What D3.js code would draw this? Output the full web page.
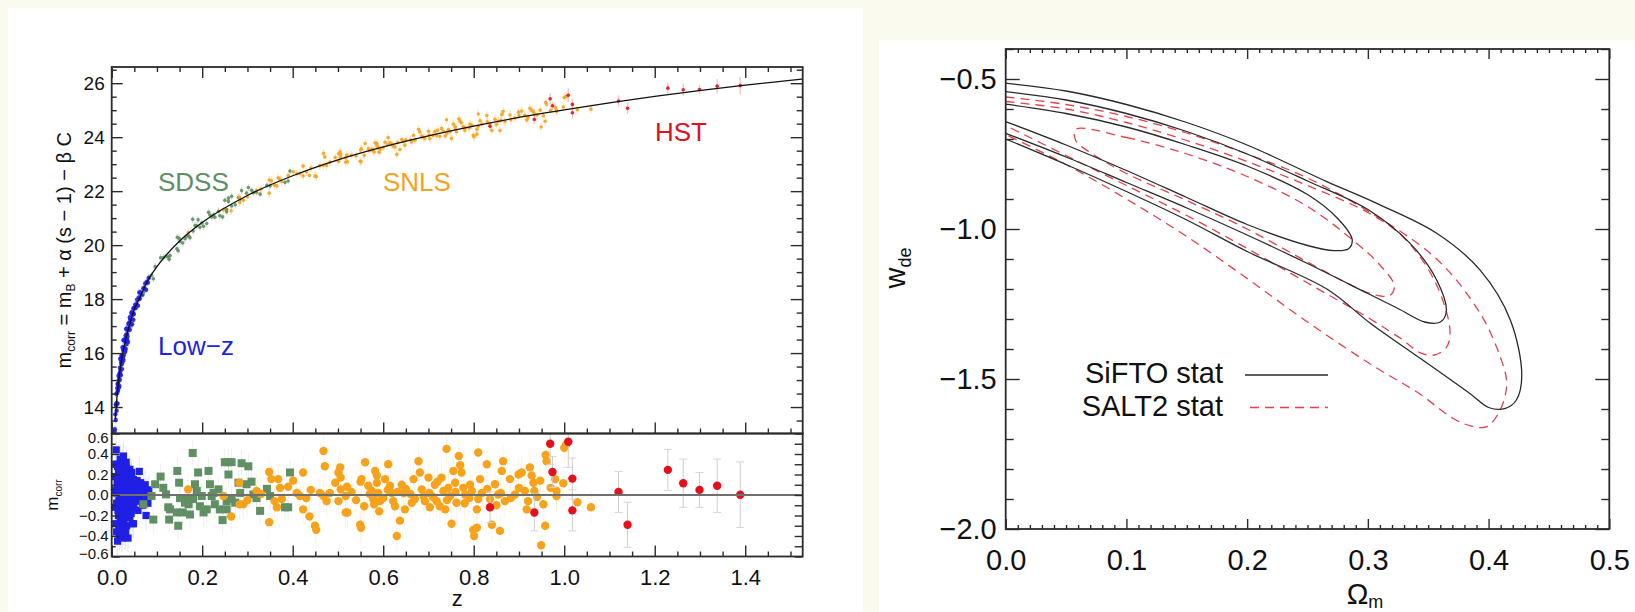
<!DOCTYPE html>
<html>
<head>
<meta charset="utf-8">
<script src="https://cdn.jsdelivr.net/npm/d3@7"></script>
<style>
  html, body { margin: 0; padding: 0; background: #fafaee; }
  svg { display: block; font-family: "Liberation Sans", Arial, Helvetica, sans-serif; }
</style>
</head>
<body>
<svg id="fig" width="1635" height="612"></svg>
<script>
// ---------------- Hubble diagram data ----------------
// best-fit model curve: redshift and corrected magnitude
const modelZ = [0.008, 0.01, 0.015, 0.02, 0.03, 0.04, 0.05, 0.06, 0.08, 0.1, 0.15, 0.2, 0.3, 0.4, 0.5, 0.6, 0.7, 0.8, 0.9, 1.0, 1.2, 1.4, 1.53];
const modelM = [13.55, 14.05, 14.93, 15.56, 16.45, 17.08, 17.62, 17.98, 18.69, 19.2, 20.15, 20.84, 21.84, 22.57, 23.16, 23.64, 24.05, 24.41, 24.73, 25.01, 25.51, 25.93, 26.16];

// Hubble residuals [z, residual] per sample
const lowZ = [[0.010,0.44],[0.012,0.30],[0.013,-0.45],[0.014,0.10],[0.015,-0.20],[0.015,0.22],[0.016,-0.05],[0.017,0.05],[0.018,-0.30],[0.018,0.15],[0.019,-0.10],[0.020,0.25],[0.020,-0.38],[0.021,0.00],[0.022,-0.15],[0.022,0.18],[0.023,0.08],[0.024,-0.25],[0.024,-0.05],[0.025,0.12],[0.026,0.38],[0.026,-0.35],[0.027,0.02],[0.028,-0.12],[0.028,0.22],[0.029,-0.20],[0.030,0.06],[0.030,-0.40],[0.031,0.15],[0.032,-0.08],[0.033,0.26],[0.033,-0.30],[0.034,0.00],[0.035,-0.15],[0.035,0.10],[0.036,-0.42],[0.037,0.20],[0.038,-0.05],[0.039,0.05],[0.040,-0.22],[0.040,0.25],[0.041,0.12],[0.042,-0.10],[0.043,0.02],[0.044,0.18],[0.045,-0.28],[0.046,0.08],[0.047,-0.02],[0.048,0.15],[0.049,-0.12],[0.050,0.05],[0.052,0.10],[0.053,-0.06],[0.055,0.00],[0.056,0.14],[0.058,-0.15],[0.060,0.08],[0.061,0.23],[0.062,-0.04],[0.064,0.12],[0.066,0.02],[0.068,-0.10],[0.070,0.07],[0.072,-0.02],[0.074,0.10],[0.076,-0.20],[0.078,0.03],[0.080,-0.08],[0.082,0.05],[0.048,-0.28],[0.027,-0.25],[0.019,0.35],[0.023,-0.42],[0.031,-0.36],[0.016,-0.33],[0.006,0.05],[0.007,-0.12],[0.008,0.18],[0.009,-0.28],[0.010,0.02],[0.011,-0.08],[0.012,0.12],[0.013,0.28],[0.014,-0.15],[0.017,-0.40],[0.021,0.10],[0.025,-0.18],[0.029,0.10],[0.032,0.32],[0.034,-0.20],[0.036,0.05],[0.038,0.15],[0.041,-0.05],[0.043,-0.18],[0.044,0.22],[0.009,0.30],[0.011,-0.36],[0.015,0.05],[0.019,-0.22],[0.024,0.30]];

const sdss = [[0.070,-0.09],[0.088,-0.01],[0.092,-0.24],[0.096,0.105],[0.108,0.18],[0.114,0.07],[0.120,0.006],[0.125,-0.12],[0.127,-0.24],[0.129,-0.14],[0.144,-0.17],[0.145,0.235],[0.147,-0.30],[0.149,0.12],[0.151,-0.03],[0.157,-0.17],[0.162,-0.075],[0.166,-0.03],[0.170,-0.09],[0.173,-0.19],[0.179,0.41],[0.180,-0.04],[0.184,0.105],[0.188,0.04],[0.191,0.22],[0.195,-0.11],[0.199,-0.01],[0.203,-0.17],[0.210,-0.14],[0.214,0.235],[0.217,0.105],[0.221,-0.01],[0.225,0.02],[0.228,-0.09],[0.236,0.055],[0.239,-0.14],[0.245,-0.245],[0.250,0.32],[0.254,-0.06],[0.254,-0.14],[0.258,0.32],[0.258,0.20],[0.265,0.32],[0.265,-0.04],[0.273,-0.075],[0.280,0.12],[0.284,0.02],[0.287,0.31],[0.298,0.105],[0.302,0.28],[0.309,0.13],[0.313,0.005],[0.320,-0.03],[0.328,-0.155],[0.343,0.06],[0.350,-0.01],[0.383,-0.12],[0.390,-0.12],[0.394,0.22]];

const snls = [[0.169,0.055],[0.247,-0.01],[0.264,-0.21],[0.282,0.12],[0.283,-0.09],[0.291,-0.09],[0.300,-0.05],[0.320,0.04],[0.330,0.01],[0.348,0.225],[0.348,-0.265],[0.353,0.155],[0.360,-0.06],[0.365,-0.12],[0.368,0.155],[0.372,0.07],[0.376,-0.04],[0.390,0.08],[0.401,0.14],[0.409,0.02],[0.416,-0.01],[0.423,0.22],[0.423,-0.14],[0.430,-0.03],[0.437,-0.21],[0.440,0.05],[0.449,-0.30],[0.452,-0.34],[0.460,0.02],[0.468,0.43],[0.468,-0.01],[0.471,0.28],[0.475,-0.06],[0.482,0.02],[0.494,0.12],[0.501,0.22],[0.501,-0.06],[0.505,0.27],[0.506,0.17],[0.506,0.055],[0.517,-0.01],[0.517,-0.17],[0.520,0.08],[0.521,-0.17],[0.530,0.03],[0.540,-0.05],[0.549,-0.29],[0.550,0.13],[0.551,-0.32],[0.552,0.155],[0.558,-0.11],[0.560,0.32],[0.567,0.09],[0.570,0.01],[0.575,0.04],[0.578,-0.04],[0.580,-0.09],[0.582,0.235],[0.586,0.19],[0.586,0.12],[0.589,0.02],[0.591,-0.16],[0.593,-0.06],[0.600,-0.03],[0.604,0.155],[0.610,0.05],[0.611,0.30],[0.615,0.09],[0.619,0.02],[0.622,-0.06],[0.626,-0.11],[0.630,-0.40],[0.632,0.03],[0.637,-0.25],[0.641,0.10],[0.645,0.02],[0.648,-0.14],[0.650,0.06],[0.660,0.01],[0.663,-0.075],[0.667,0.155],[0.670,-0.04],[0.678,0.33],[0.681,0.22],[0.685,0.055],[0.689,-0.01],[0.692,-0.06],[0.700,0.17],[0.702,0.02],[0.703,-0.12],[0.710,-0.02],[0.714,0.10],[0.718,-0.06],[0.720,0.13],[0.725,-0.11],[0.729,0.17],[0.733,0.04],[0.737,-0.14],[0.740,0.45],[0.741,-0.05],[0.744,0.07],[0.748,-0.01],[0.751,-0.28],[0.755,0.235],[0.759,0.12],[0.760,0.03],[0.762,-0.075],[0.767,0.38],[0.770,0.29],[0.773,0.22],[0.777,0.07],[0.780,-0.08],[0.781,0.005],[0.790,-0.03],[0.792,0.10],[0.796,0.04],[0.799,-0.34],[0.801,-0.40],[0.807,-0.32],[0.807,-0.14],[0.810,0.415],[0.810,-0.04],[0.814,0.155],[0.818,0.02],[0.829,0.30],[0.830,0.06],[0.836,-0.04],[0.840,-0.29],[0.847,0.105],[0.850,-0.10],[0.854,0.005],[0.858,-0.35],[0.860,0.02],[0.862,0.235],[0.865,0.33],[0.869,-0.06],[0.880,0.155],[0.882,-0.03],[0.891,0.005],[0.899,0.20],[0.900,0.07],[0.906,0.22],[0.913,0.04],[0.917,-0.14],[0.920,-0.06],[0.924,0.27],[0.928,0.19],[0.932,0.12],[0.934,0.04],[0.940,-0.02],[0.947,0.14],[0.949,-0.49],[0.954,-0.09],[0.958,-0.30],[0.959,0.39],[0.961,0.33],[0.970,0.07],[0.980,0.155],[0.983,0.04],[0.983,-0.01],[0.998,0.115],[1.000,0.46],[1.004,0.49],[1.029,-0.07],[1.059,-0.12]];

// HST sample: [z, residual, error]
const hst = [[0.836,-0.12,0.15],[0.934,-0.17,0.18],[0.969,0.50,0.20],[0.974,0.225,0.15],[1.009,0.52,0.25],[1.018,0.16,0.20],[1.018,-0.15,0.20],[1.120,0.03,0.20],[1.140,-0.29,0.22],[1.229,0.245,0.20],[1.263,0.115,0.235],[1.299,0.05,0.17],[1.338,0.09,0.26],[1.389,0.003,0.32]];

// typical residual errors of the three large samples
const sampleErr = { lowz: 0.14, sdss: 0.13, snls: 0.16 };

// ---------------- w - Omega_m contours ----------------
// [Omega_m, w] along each confidence contour
const siftoInner = [[0,-0.584],[0.05,-0.615],[0.1,-0.66],[0.15,-0.72],[0.2,-0.79],[0.25,-0.885],[0.275,-0.965],[0.287,-1.035],[0.284,-1.066],[0.272,-1.072],[0.25,-1.055],[0.2,-0.985],[0.15,-0.895],[0.1,-0.805],[0.05,-0.72],[0,-0.642]];
const siftoMid = [[0,-0.542],[0.05,-0.57],[0.1,-0.615],[0.15,-0.675],[0.2,-0.75],[0.25,-0.84],[0.3,-0.935],[0.335,-1.048],[0.357,-1.17],[0.365,-1.275],[0.36,-1.31],[0.347,-1.31],[0.325,-1.265],[0.3,-1.215],[0.25,-1.115],[0.2,-1.02],[0.15,-0.93],[0.1,-0.845],[0.05,-0.76],[0,-0.681]];
const siftoOuter = [[0,-0.514],[0.05,-0.54],[0.1,-0.585],[0.15,-0.645],[0.2,-0.72],[0.266,-0.842],[0.307,-0.914],[0.357,-1.014],[0.393,-1.137],[0.418,-1.303],[0.4275,-1.49],[0.423,-1.57],[0.414,-1.598],[0.40,-1.595],[0.385,-1.55],[0.343,-1.43],[0.302,-1.314],[0.266,-1.2],[0.2,-1.075],[0.15,-0.97],[0.1,-0.875],[0.05,-0.785],[0,-0.70]];
const salt2Inner = [[0.058,-0.668],[0.1,-0.695],[0.15,-0.75],[0.2,-0.825],[0.25,-0.925],[0.29,-1.045],[0.31,-1.12],[0.322,-1.19],[0.318,-1.222],[0.305,-1.218],[0.285,-1.185],[0.25,-1.11],[0.2,-1.0],[0.15,-0.905],[0.1,-0.815],[0.07,-0.745],[0.058,-0.705]];
const salt2Mid = [[0,-0.575],[0.05,-0.6],[0.1,-0.645],[0.15,-0.705],[0.2,-0.775],[0.25,-0.855],[0.3,-0.945],[0.329,-1.026],[0.355,-1.17],[0.368,-1.337],[0.365,-1.395],[0.355,-1.42],[0.343,-1.412],[0.329,-1.37],[0.302,-1.30],[0.25,-1.18],[0.2,-1.065],[0.15,-0.955],[0.1,-0.855],[0.05,-0.755],[0,-0.655]];
const salt2Outer = [[0,-0.56],[0.05,-0.585],[0.1,-0.625],[0.15,-0.68],[0.2,-0.75],[0.25,-0.83],[0.302,-0.945],[0.357,-1.10],[0.393,-1.281],[0.41,-1.43],[0.415,-1.514],[0.41,-1.6],[0.3985,-1.659],[0.385,-1.656],[0.37,-1.63],[0.343,-1.55],[0.302,-1.45],[0.25,-1.31],[0.2,-1.165],[0.15,-1.025],[0.1,-0.9],[0.05,-0.785],[0,-0.685]];

// ---------------- drawing ----------------
const svg = d3.select("#fig");
const INK = "#2b2b2b";
const COL = { lowz: "#1f1fe6", sdss: "#5f8f62", snls: "#f7a21b", hst: "#e3101e" };

// white panels on the cream page
svg.append("rect").attr("x", 8).attr("y", 8).attr("width", 855).attr("height", 604).attr("fill", "#ffffff");
svg.append("rect").attr("x", 879).attr("y", 40).attr("width", 756).attr("height", 572).attr("fill", "#ffffff");

// scales of the left figure
const X0 = 111.7, X1 = 802.7, T0 = 67, T1 = 433.5, B1 = 556.5;
const xz = d3.scaleLinear().domain([0, 1.527]).range([X0, X1]);
const ym = d3.scaleLinear().domain([13.02, 26.6]).range([T1, T0]);
const yr = d3.scaleLinear().domain([-0.6, 0.6]).range([B1, T1]);
const model = d3.scaleLinear().domain(modelZ).range(modelM);

function styleAxis(g, size) {
  g.select(".domain").remove();
  g.attr("font-family", null).attr("font-size", size || null);
  g.selectAll("line").attr("stroke", INK).attr("stroke-width", 1.4);
  g.selectAll("text").attr("fill", "#111");
  return g;
}
function minorsOf(range, step) {
  return range.filter(v => Math.abs(v / step - Math.round(v / step)) > 1e-6);
}

svg.append("defs").call(d => {
  d.append("clipPath").attr("id", "clipTop").append("rect").attr("x", X0).attr("y", T0).attr("width", X1 - X0).attr("height", T1 - T0);
  d.append("clipPath").attr("id", "clipBot").append("rect").attr("x", X0).attr("y", T1).attr("width", X1 - X0).attr("height", B1 - T1);
  d.append("clipPath").attr("id", "clipW").append("rect").attr("x", 1005.7).attr("y", 49).attr("width", 603.6).attr("height", 480);
});

const samples = [
  { key: "lowz", data: lowZ, shape: "square" },
  { key: "sdss", data: sdss, shape: "square" },
  { key: "snls", data: snls, shape: "circle" },
  { key: "hst",  data: hst,  shape: "circle" }
];

// ---- upper panel: corrected magnitudes ----
const hubbleG = svg.append("g").attr("clip-path", "url(#clipTop)");
samples.forEach(s => {
  const g = hubbleG.append("g");
  const err = d => s.key === "hst" ? d[2] : sampleErr[s.key];
  g.selectAll("line").data(s.data).join("line")
    .attr("x1", d => xz(d[0])).attr("x2", d => xz(d[0]))
    .attr("y1", d => ym(model(d[0]) + d[1] + err(d))).attr("y2", d => ym(model(d[0]) + d[1] - err(d)))
    .attr("stroke", COL[s.key]).attr("stroke-opacity", 0.25).attr("stroke-width", 1.4);
  g.selectAll("circle").data(s.data).join("circle")
    .attr("cx", d => xz(d[0])).attr("cy", d => ym(model(d[0]) + d[1]))
    .attr("r", s.key === "lowz" ? 2.2 : 1.8).attr("fill", COL[s.key]).attr("fill-opacity", 0.9);
});
hubbleG.append("path").datum(modelZ.map((z, i) => [z, modelM[i]]))
  .attr("d", d3.line().x(d => xz(d[0])).y(d => ym(d[1])).curve(d3.curveMonotoneX))
  .attr("fill", "none").attr("stroke", "#111").attr("stroke-width", 1.3);

// sample names
const names = [["SDSS", 158, 190.5, "sdss"], ["SNLS", 383, 190.5, "snls"], ["HST", 655, 141, "hst"], ["Low\u2212z", 158, 355, "lowz"]];
svg.append("g").selectAll("text").data(names).join("text")
  .attr("x", d => d[1]).attr("y", d => d[2]).attr("font-size", 26)
  .attr("fill", d => COL[d[3]]).text(d => d[0]);

// ---- lower panel: residuals ----
const residG = svg.append("g").attr("clip-path", "url(#clipBot)");
samples.forEach(s => {
  const g = residG.append("g");
  const err = d => s.key === "hst" ? d[2] : sampleErr[s.key];
  g.selectAll("line").data(s.data).join("line")
    .attr("x1", d => xz(d[0])).attr("x2", d => xz(d[0]))
    .attr("y1", d => yr(d[1] + err(d))).attr("y2", d => yr(d[1] - err(d)))
    .attr("stroke", s.key === "hst" ? "#c9c9c9" : COL[s.key]).attr("stroke-opacity", s.key === "hst" ? 0.9 : 0.12).attr("stroke-width", 1);
  if (s.key === "hst") {
    [1, -1].forEach(sg => {
      g.append("g").selectAll("line").data(s.data).join("line")
        .attr("x1", d => xz(d[0]) - 4).attr("x2", d => xz(d[0]) + 4)
        .attr("y1", d => yr(d[1] + sg * d[2])).attr("y2", d => yr(d[1] + sg * d[2]))
        .attr("stroke", "#d4d4d4").attr("stroke-width", 1);
    });
  }
  if (s.shape === "square") {
    const h = s.key === "lowz" ? 3.6 : 4;
    g.selectAll("rect").data(s.data).join("rect")
      .attr("x", d => xz(d[0]) - h).attr("y", d => yr(d[1]) - h)
      .attr("width", 2 * h).attr("height", 2 * h).attr("fill", COL[s.key]);
  } else {
    g.selectAll("circle").data(s.data).join("circle")
      .attr("cx", d => xz(d[0])).attr("cy", d => yr(d[1])).attr("r", 4.2).attr("fill", COL[s.key]);
  }
});
residG.append("line").attr("x1", X0).attr("x2", X1).attr("y1", yr(0)).attr("y2", yr(0))
  .attr("stroke", "#6f6f6f").attr("stroke-width", 2);

// ---- axes of the left figure ----
const zMaj = d3.range(0, 1.5, 0.2), zMin = minorsOf(d3.range(0, 1.53, 0.05), 0.2);
// upper panel
styleAxis(svg.append("g").attr("transform", `translate(${X0},0)`)
  .call(d3.axisLeft(ym).tickValues(d3.range(14, 27, 2)).tickSize(-11).tickPadding(7).tickFormat(d3.format("d"))), 19);
styleAxis(svg.append("g").attr("transform", `translate(${X0},0)`)
  .call(d3.axisLeft(ym).tickValues(minorsOf(d3.range(13.5, 26.6, 0.5), 2)).tickSize(-5).tickFormat("")));
styleAxis(svg.append("g").attr("transform", `translate(${X1},0)`)
  .call(d3.axisRight(ym).tickValues(d3.range(14, 27, 2)).tickSize(-12).tickFormat("")));
styleAxis(svg.append("g").attr("transform", `translate(${X1},0)`)
  .call(d3.axisRight(ym).tickValues(minorsOf(d3.range(13.5, 26.6, 0.5), 2)).tickSize(-6).tickFormat("")));
[[T0, d3.axisTop], [T1, d3.axisBottom]].forEach(([y, ax]) => {
  styleAxis(svg.append("g").attr("transform", `translate(0,${y})`).call(ax(xz).tickValues(zMaj).tickSize(-11).tickFormat("")));
  styleAxis(svg.append("g").attr("transform", `translate(0,${y})`).call(ax(xz).tickValues(zMin).tickSize(-5).tickFormat("")));
});
// lower panel
const rMaj = d3.range(-0.6, 0.61, 0.2), rMin = minorsOf(d3.range(-0.5, 0.51, 0.1), 0.2);
const rLeft = styleAxis(svg.append("g").attr("transform", `translate(${X0},0)`)
  .call(d3.axisLeft(yr).tickValues(rMaj).tickSize(-8).tickPadding(3).tickFormat(d3.format(".1f"))), 15);
rLeft.selectAll("text").attr("dy", d => d > 0.5 ? "0.62em" : d < -0.5 ? "0.12em" : "0.32em");
styleAxis(svg.append("g").attr("transform", `translate(${X0},0)`)
  .call(d3.axisLeft(yr).tickValues(rMin).tickSize(-4).tickFormat("")));
styleAxis(svg.append("g").attr("transform", `translate(${X1},0)`)
  .call(d3.axisRight(yr).tickValues(rMaj).tickSize(-8).tickFormat("")));
styleAxis(svg.append("g").attr("transform", `translate(${X1},0)`)
  .call(d3.axisRight(yr).tickValues(rMin).tickSize(-8).tickFormat("")));
styleAxis(svg.append("g").attr("transform", `translate(0,${B1})`)
  .call(d3.axisBottom(xz).tickValues(zMaj).tickSize(-11).tickPadding(13).tickFormat(d3.format(".1f"))), 22);
styleAxis(svg.append("g").attr("transform", `translate(0,${B1})`)
  .call(d3.axisBottom(xz).tickValues(zMin).tickSize(-5).tickFormat("")));

// frames
svg.append("rect").attr("x", X0).attr("y", T0).attr("width", X1 - X0).attr("height", T1 - T0)
  .attr("fill", "none").attr("stroke", INK).attr("stroke-width", 1.8);
svg.append("rect").attr("x", X0).attr("y", T1).attr("width", X1 - X0).attr("height", B1 - T1)
  .attr("fill", "none").attr("stroke", INK).attr("stroke-width", 1.8);

// axis titles
const ylab = svg.append("text").attr("transform", `translate(71,${(T0 + T1) / 2}) rotate(-90)`)
  .attr("text-anchor", "middle").attr("font-size", 20).attr("fill", "#111");
ylab.append("tspan").text("m");
ylab.append("tspan").attr("font-size", 12).attr("dy", 4).text("corr");
ylab.append("tspan").attr("dy", -4).text(" = m");
ylab.append("tspan").attr("font-size", 12).attr("dy", 4).text("B");
ylab.append("tspan").attr("dy", -4).text(" + \u03b1 (s \u2212 1) \u2212 \u03b2 C");

const rlab = svg.append("text").attr("transform", `translate(58,${yr(0)}) rotate(-90)`)
  .attr("text-anchor", "middle").attr("font-size", 17).attr("fill", "#111");
rlab.append("tspan").text("m");
rlab.append("tspan").attr("font-size", 10).attr("dy", 4).text("corr");

svg.append("text").attr("x", (X0 + X1) / 2).attr("y", 606).attr("text-anchor", "middle")
  .attr("font-size", 22).attr("fill", "#111").text("z");

// ---------------- right figure: w vs Omega_m ----------------
const W0 = 1005.7, W1 = 1609.3, WT = 49, WB = 529;
const xo = d3.scaleLinear().domain([0, 0.5]).range([W0, W1]);
const yw = d3.scaleLinear().domain([-2.0, -0.4]).range([WB, WT]);

const cont = svg.append("g").attr("clip-path", "url(#clipW)");
const openLine = d3.line().x(d => xo(d[0])).y(d => yw(d[1])).curve(d3.curveCatmullRom.alpha(0.5));
const closedLine = d3.line().x(d => xo(d[0])).y(d => yw(d[1])).curve(d3.curveCatmullRomClosed.alpha(0.5));
const RED = "#e5414c";
[[salt2Outer, openLine], [salt2Mid, openLine], [salt2Inner, closedLine]].forEach(([c, gen]) => {
  cont.append("path").datum(c).attr("d", gen).attr("fill", "none")
    .attr("stroke", RED).attr("stroke-width", 1.3).attr("stroke-dasharray", "9,6");
});
[siftoOuter, siftoMid, siftoInner].forEach(c => {
  cont.append("path").datum(c).attr("d", openLine).attr("fill", "none")
    .attr("stroke", "#2a2a2a").attr("stroke-width", 1.3);
});

const wMaj = [-2.0, -1.5, -1.0, -0.5], wMin = minorsOf(d3.range(-1.9, -0.39, 0.1), 0.5);
const oMaj = d3.range(0, 0.51, 0.1), oMin = minorsOf(d3.range(0.01, 0.5, 0.01), 0.1);
styleAxis(svg.append("g").attr("transform", `translate(${W0},0)`)
  .call(d3.axisLeft(yw).tickValues(wMaj).tickSize(-14).tickPadding(9).tickFormat(d3.format(".1f"))), 29);
styleAxis(svg.append("g").attr("transform", `translate(${W0},0)`)
  .call(d3.axisLeft(yw).tickValues(wMin).tickSize(-8).tickFormat("")));
styleAxis(svg.append("g").attr("transform", `translate(${W1},0)`)
  .call(d3.axisRight(yw).tickValues(wMaj).tickSize(-14).tickFormat("")));
styleAxis(svg.append("g").attr("transform", `translate(${W1},0)`)
  .call(d3.axisRight(yw).tickValues(wMin).tickSize(-8).tickFormat("")));
styleAxis(svg.append("g").attr("transform", `translate(0,${WB})`)
  .call(d3.axisBottom(xo).tickValues(oMaj).tickSize(-10).tickPadding(20).tickFormat(d3.format(".1f"))), 29);
styleAxis(svg.append("g").attr("transform", `translate(0,${WB})`)
  .call(d3.axisBottom(xo).tickValues(oMin).tickSize(-4).tickFormat("")));
styleAxis(svg.append("g").attr("transform", `translate(0,${WT})`)
  .call(d3.axisTop(xo).tickValues(oMaj).tickSize(-10).tickFormat("")));
styleAxis(svg.append("g").attr("transform", `translate(0,${WT})`)
  .call(d3.axisTop(xo).tickValues(oMin).tickSize(-4).tickFormat("")));
svg.append("rect").attr("x", W0).attr("y", WT).attr("width", W1 - W0).attr("height", WB - WT)
  .attr("fill", "none").attr("stroke", INK).attr("stroke-width", 1.8);

// legend
const legend = svg.append("g").attr("font-size", 29).attr("fill", "#111");
legend.append("text").attr("x", 1223).attr("y", 383).attr("text-anchor", "end").text("SiFTO stat");
legend.append("text").attr("x", 1223).attr("y", 416).attr("text-anchor", "end").text("SALT2 stat");
legend.append("line").attr("x1", 1245).attr("x2", 1328).attr("y1", 375).attr("y2", 375)
  .attr("stroke", "#2a2a2a").attr("stroke-width", 1.3);
legend.append("line").attr("x1", 1250).attr("x2", 1328).attr("y1", 407.5).attr("y2", 407.5)
  .attr("stroke", RED).attr("stroke-width", 1.3).attr("stroke-dasharray", "9,6");

// axis titles
const wl = svg.append("text").attr("transform", "translate(905,268) rotate(-90)")
  .attr("text-anchor", "middle").attr("font-size", 29).attr("fill", "#111");
wl.append("tspan").text("w");
wl.append("tspan").attr("font-size", 18).attr("dy", 6).text("de");
const ol = svg.append("text").attr("x", 1365).attr("y", 604).attr("text-anchor", "middle")
  .attr("font-size", 29).attr("fill", "#111");
ol.append("tspan").text("\u03a9");
ol.append("tspan").attr("font-size", 18).attr("dy", 4).text("m");
</script>
</body>
</html>
